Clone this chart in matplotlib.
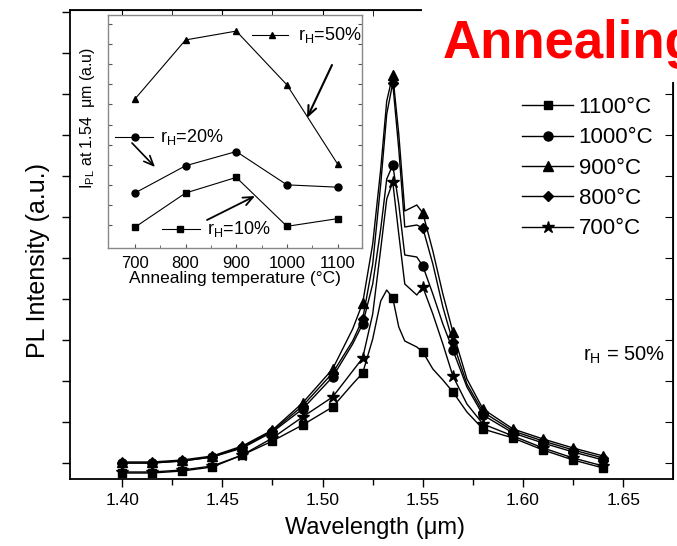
import matplotlib
matplotlib.use('Agg')
import matplotlib.pyplot as plt
from matplotlib.patches import Rectangle
from matplotlib.lines import Line2D
import numpy as np

plt.rcParams['font.family'] = ['Liberation Sans', 'DejaVu Sans']
plt.rcParams['mathtext.fontset'] = 'custom'
plt.rcParams['mathtext.rm'] = 'Liberation Sans'
plt.rcParams['mathtext.it'] = 'Liberation Sans:italic'

# ---------------- data ----------------
wavelength = [1.40, 1.415, 1.43, 1.445, 1.46, 1.475, 1.49, 1.505, 1.515, 1.52,
              1.525, 1.529, 1.532, 1.535, 1.538, 1.541, 1.547, 1.55, 1.555, 1.56,
              1.565, 1.572, 1.58, 1.595, 1.61, 1.625, 1.64]
pl_1100 = [6, 6, 8, 12, 24, 38, 54, 72, 95, 106, 140, 178, 189, 181, 152, 138, 132, 127,
           110, 99, 87, 67, 50, 41, 29, 19, 11]
pl_1000 = [16, 16, 18, 22, 31, 47, 70, 102, 135, 155, 195, 250, 300, 314, 275, 224, 222,
           213, 185, 155, 129, 92, 64, 46, 36, 27, 19]
pl_900 = [17, 17, 19, 23, 33, 49, 76, 110, 150, 176, 235, 310, 378, 404, 345, 268, 274,
          266, 228, 185, 147, 100, 70, 50, 40, 31, 23]
pl_800 = [16, 16, 18, 22, 32, 48, 73, 106, 138, 160, 215, 295, 365, 396, 330, 252, 254,
          251, 215, 172, 137, 95, 67, 48, 38, 29, 21]
pl_700 = [7, 7, 9, 13, 24, 41, 62, 82, 108, 121, 165, 230, 280, 297, 245, 195, 184, 192,
          165, 135, 103, 75, 55, 43, 31, 21, 13]
series_labels = ['1100°C', '1000°C', '900°C', '800°C', '700°C']

anneal_temp = [700, 800, 900, 1000, 1100]
ipl_rh50 = [6.39, 8.93, 9.31, 7.0, 3.6]
ipl_rh20 = [2.36, 3.53, 4.14, 2.71, 2.61]
ipl_rh10 = [0.89, 2.36, 3.03, 0.93, 1.26]

# ---------------- figure ----------------
W, H = 677, 546
fig = plt.figure(figsize=(W / 100, H / 100), dpi=100)

L, R, T, B = 70, 673, 10, 479
ax = fig.add_axes([L / W, 1 - B / H, (R - L) / W, (B - T) / H])

marker_idx = [0, 1, 2, 3, 4, 5, 6, 7, 9, 13, 17, 20, 22, 23, 24, 25, 26]
styles = [('s', 6), ('o', 6.5), ('^', 7), ('D', 5.5), ('*', 9)]
handles = []
for vals, lab, (mk, ms) in zip([pl_1100, pl_1000, pl_900, pl_800, pl_700], series_labels, styles):
    h, = ax.plot(wavelength, vals, color='black', lw=1.0, marker=mk, ms=ms,
                 markevery=marker_idx, mfc='black', mec='black', label=lab)
    handles.append(h)

ax.set_xlim(1.374, 1.6748)
ax.set_ylim(0, B - T)
ax.set_xticks([1.40, 1.45, 1.50, 1.55, 1.60, 1.65])
ax.set_xticklabels(['1.40', '1.45', '1.50', '1.55', '1.60', '1.65'])
ax.set_xticks([1.425, 1.475, 1.525, 1.575, 1.625], minor=True)
ax.set_yticks(np.arange(16, B - T, 41))
ax.set_yticklabels([])
ax.tick_params(axis='both', which='both', width=1.0)
ax.tick_params(axis='x', which='major', direction='out', length=6, labelsize=12.5, pad=4)
ax.tick_params(axis='x', which='minor', direction='out', length=4)
ax.tick_params(axis='y', which='major', direction='out', length=6)
for sp in ax.spines.values():
    sp.set_linewidth(1.3)

# mirrored ticks (top/right) pointing inward
axt = ax.secondary_xaxis('top')
axt.set_xticks([1.40, 1.45, 1.50, 1.55, 1.60, 1.65])
axt.set_xticks([1.425, 1.475, 1.525, 1.575, 1.625], minor=True)
axt.tick_params(which='major', direction='in', length=6, labelsize=0, labeltop=False)
axt.tick_params(which='minor', direction='in', length=4)
axt.set_xticklabels([])
axr = ax.secondary_yaxis('right')
axr.set_yticks(np.arange(16, B - T, 41))
axr.set_yticklabels([])
axr.tick_params(direction='in', length=6)

ax.set_xlabel('Wavelength (μm)', fontsize=17)
ax.xaxis.set_label_coords((375 - L) / (R - L), (B - 517) / (B - T))
ax.set_ylabel('PL Intensity (a.u.)', fontsize=18)
ax.yaxis.set_label_coords((50 - L) / (R - L), (B - 260) / (B - T))

leg = ax.legend(handles=handles, loc='upper left', bbox_to_anchor=(522 / W, 1 - 97 / H),
                bbox_transform=fig.transFigure, frameon=False, fontsize=16,
                handlelength=2.3, handletextpad=0.25, labelspacing=0.42,
                borderpad=0, borderaxespad=0)

fig.text(583 / W, 1 - 355 / H, r'r$_{\mathregular{H}}$ = 50%', fontsize=14.5, va='center', ha='left')

# ---------------- inset ----------------
iL, iR, iT, iB = 108, 362, 15, 248
axi = fig.add_axes([iL / W, 1 - iB / H, (iR - iL) / W, (iB - iT) / H])
axi.plot(anneal_temp, ipl_rh50, color='black', lw=0.8, marker='^', ms=5)
axi.plot(anneal_temp, ipl_rh20, color='black', lw=0.8, marker='o', ms=5)
axi.plot(anneal_temp, ipl_rh10, color='black', lw=0.8, marker='s', ms=4.5)
axi.set_xlim(647, 1148)
axi.set_ylim(0, 10)
axi.set_xticks(anneal_temp)
axi.set_xticks([750, 850, 950, 1050], minor=True)
axi.set_yticks(np.arange(1.0, 10, 0.86))
axi.set_yticklabels([])
axi.tick_params(which='both', direction='in', right=True, color='#555555')
axi.tick_params(which='major', length=3, labelsize=12, pad=6)
axi.tick_params(which='minor', length=2)
for sp in axi.spines.values():
    sp.set_color('#888888')
    sp.set_linewidth(1.0)
axi.set_xlabel('Annealing temperature (°C)', fontsize=12.5, labelpad=0)
axi.set_ylabel(r'I$_{\mathregular{PL}}$ at 1.54  μm (a.u)', fontsize=11.5)
axi.yaxis.set_label_coords((97 - iL) / (iR - iL), (iB - 118) / (iB - iT))


def frac(px, py):
    return ((px - iL) / (iR - iL), (iB - py) / (iB - iT))


for (x0, x1, xm, y, mk, ms, tx, txt) in [
        (252, 288, 272, 35, '^', 5, 298, r'r$_{\mathregular{H}}$=50%'),
        (115, 153, 135, 137, 'o', 5, 160, r'r$_{\mathregular{H}}$=20%'),
        (162, 200, 180, 229, 's', 4.5, 207, r'r$_{\mathregular{H}}$=10%')]:
    a = frac(x0, y)
    b = frac(x1, y)
    m = frac(xm, y)
    axi.add_line(Line2D([a[0], b[0]], [a[1], b[1]], color='black', lw=0.8,
                        transform=axi.transAxes, clip_on=False))
    axi.add_line(Line2D([m[0]], [m[1]], color='black', marker=mk, ms=ms,
                        transform=axi.transAxes, clip_on=False))
    t = frac(tx, y)
    axi.text(t[0], t[1], txt, transform=axi.transAxes, fontsize=13, va='center', ha='left')

for tail, head, lw in [((332, 65), (307, 118), 1.5), ((132, 143), (155, 167), 1.2),
                       ((207, 220), (255, 196), 1.3)]:
    axi.annotate('', xy=frac(*head), xytext=frac(*tail), xycoords='axes fraction',
                 textcoords='axes fraction',
                 arrowprops=dict(arrowstyle='->,head_length=0.7,head_width=0.3', lw=lw,
                                 color='black', shrinkA=0, shrinkB=0))

# ---------------- overlay title ----------------
fig.add_artist(Rectangle((422 / W, 1 - 82 / H), 1, 82 / H, transform=fig.transFigure,
                         facecolor='white', edgecolor='none', zorder=10))
fig.text(443 / W, 1 - 58 / H, 'Annealing', color='red', fontsize=38, fontweight='bold',
         ha='left', va='baseline', zorder=11)

fig.savefig('out.png', dpi=100)
